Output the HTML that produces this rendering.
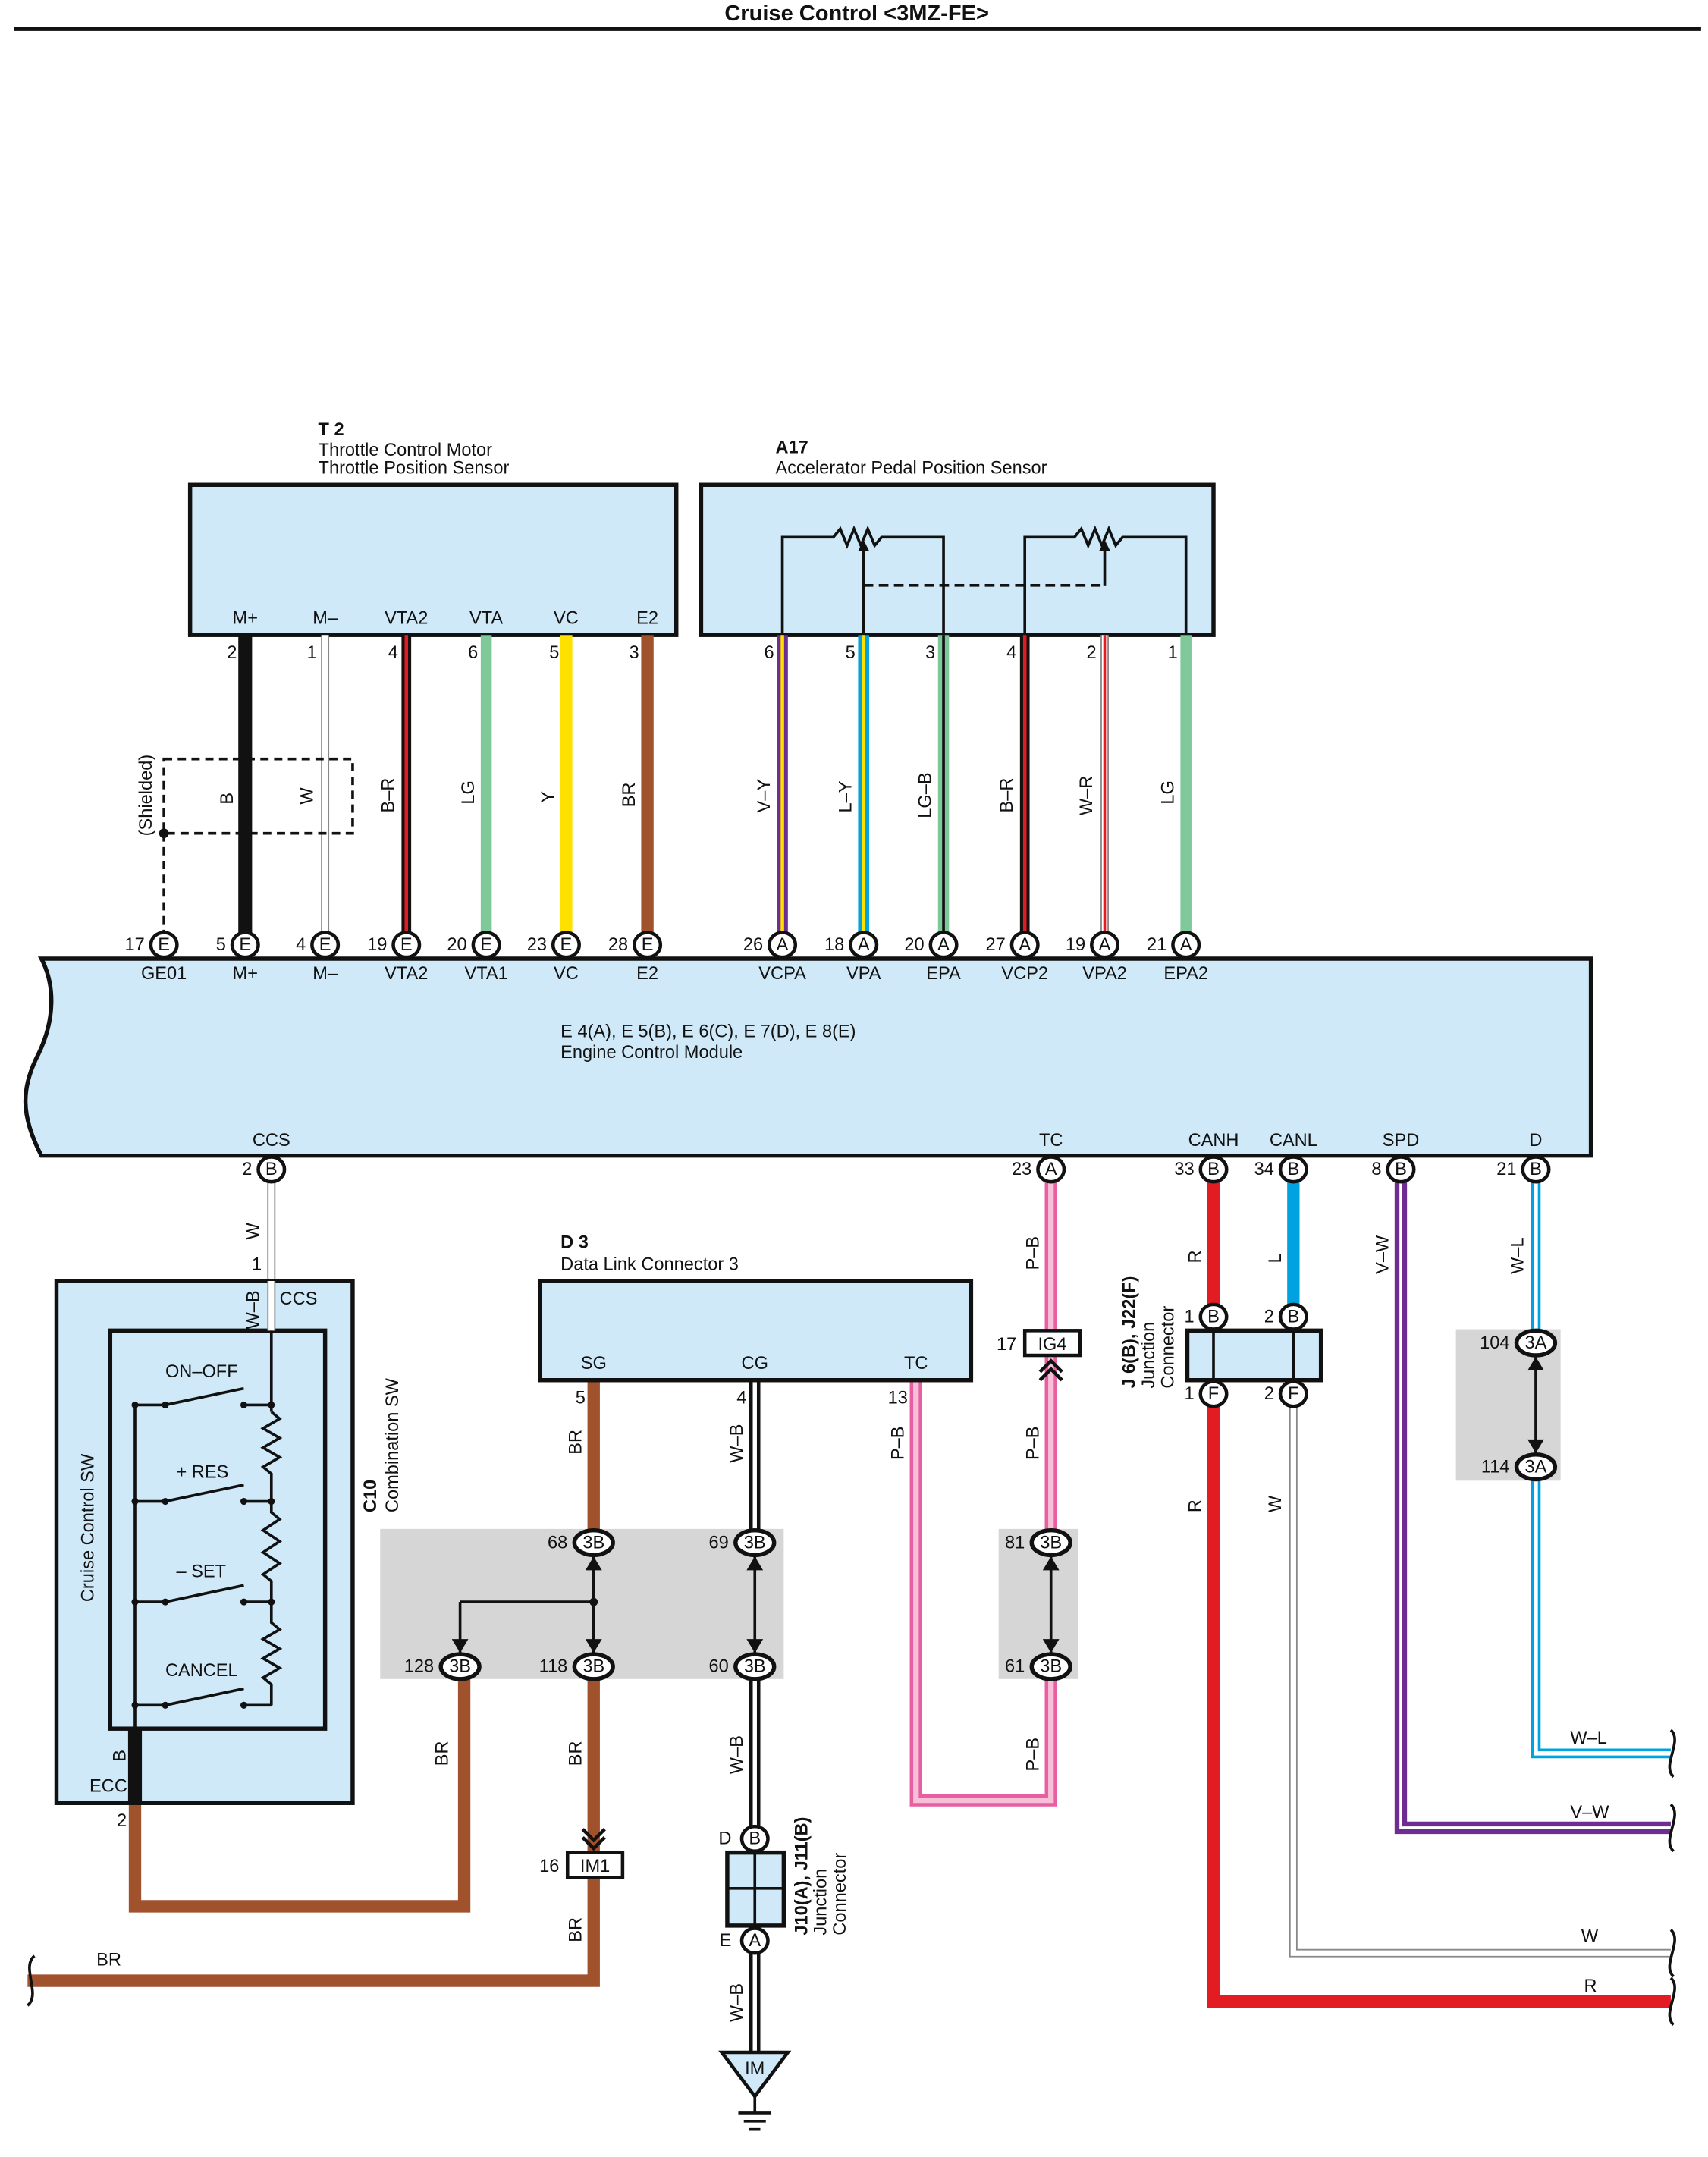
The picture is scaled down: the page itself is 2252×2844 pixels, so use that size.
<!DOCTYPE html>
<html><head><meta charset="utf-8">
<style>
html,body{margin:0;padding:0;background:#fff}
svg{display:block}
text{font-family:"Liberation Sans",sans-serif;font-size:13px;fill:#111}
.b{font-weight:bold}
.sm{font-size:12px}
</style></head><body>
<svg width="2252" height="2844" viewBox="0 0 1240 1566" xmlns="http://www.w3.org/2000/svg">
<defs>
<g id="ce"><ellipse rx="9.5" ry="9" fill="#fff" stroke="#111" stroke-width="2.5"/></g>
</defs>
<text x="622" y="15" text-anchor="middle" class="b" style="font-size:16px">Cruise Control &lt;3MZ-FE&gt;</text>
<line x1="10" y1="21" x2="1235" y2="21" stroke="#111" stroke-width="3"/>

<!-- T2 -->
<text x="231" y="316" class="b">T 2</text>
<text x="231" y="331">Throttle Control Motor</text>
<text x="231" y="344">Throttle Position Sensor</text>
<rect x="138" y="352" width="353" height="109" fill="#cfe9f8" stroke="#111" stroke-width="3"/>
<g text-anchor="middle">
<text x="178" y="453">M+</text><text x="236" y="453">M–</text><text x="295" y="453">VTA2</text>
<text x="353" y="453">VTA</text><text x="411" y="453">VC</text><text x="470" y="453">E2</text>
</g>
<g text-anchor="end">
<text x="172" y="478">2</text><text x="230" y="478">1</text><text x="289" y="478">4</text>
<text x="347" y="478">6</text><text x="406" y="478">5</text><text x="464" y="478">3</text>
</g>

<!-- A17 -->
<text x="563" y="329" class="b">A17</text>
<text x="563" y="344">Accelerator Pedal Position Sensor</text>
<rect x="509" y="352" width="372" height="109" fill="#cfe9f8" stroke="#111" stroke-width="3"/>
<g fill="none" stroke="#111" stroke-width="2">
<polyline points="568,461 568,390 605,390 610,384 615,396 620,384 625,396 630,384 635,396 640,390 685,390 685,461"/>
<polyline points="744,461 744,390 780,390 785,384 790,396 795,384 800,396 805,384 810,396 815,390 861,390 861,461"/>
<line x1="627" y1="461" x2="627" y2="398"/>
<line x1="802" y1="425" x2="802" y2="398"/>
<line x1="627" y1="425" x2="802" y2="425" stroke-dasharray="7,4"/>
</g>
<polygon points="623,400 631,400 627,392" fill="#111"/>
<polygon points="798,400 806,400 802,392" fill="#111"/>
<g text-anchor="end">
<text x="562" y="478">6</text><text x="621" y="478">5</text><text x="679" y="478">3</text>
<text x="738" y="478">4</text><text x="796" y="478">2</text><text x="855" y="478">1</text>
</g>

<!-- wires top -->
<line x1="178" y1="461" x2="178" y2="677" stroke="#111" stroke-width="10"/>
<line x1="236" y1="461" x2="236" y2="677" stroke="#888" stroke-width="6"/><line x1="236" y1="461" x2="236" y2="677" stroke="#fff" stroke-width="4"/>
<line x1="295" y1="461" x2="295" y2="677" stroke="#111" stroke-width="7"/><line x1="295" y1="461" x2="295" y2="677" stroke="#e31b23" stroke-width="2.5"/>
<line x1="353" y1="461" x2="353" y2="677" stroke="#7ec89a" stroke-width="8"/>
<line x1="411" y1="461" x2="411" y2="677" stroke="#ffe100" stroke-width="9"/>
<line x1="470" y1="461" x2="470" y2="677" stroke="#a0522d" stroke-width="9"/>
<line x1="568" y1="461" x2="568" y2="677" stroke="#6d2d91" stroke-width="8"/><line x1="568" y1="461" x2="568" y2="677" stroke="#ffe100" stroke-width="2.5"/>
<line x1="627" y1="461" x2="627" y2="677" stroke="#00a3e0" stroke-width="8"/><line x1="627" y1="461" x2="627" y2="677" stroke="#ffe100" stroke-width="2.5"/>
<line x1="685" y1="461" x2="685" y2="677" stroke="#7ec89a" stroke-width="8"/><line x1="685" y1="461" x2="685" y2="677" stroke="#111" stroke-width="2"/>
<line x1="744" y1="461" x2="744" y2="677" stroke="#111" stroke-width="7"/><line x1="744" y1="461" x2="744" y2="677" stroke="#e31b23" stroke-width="2.5"/>
<line x1="802" y1="461" x2="802" y2="677" stroke="#888" stroke-width="6"/><line x1="802" y1="461" x2="802" y2="677" stroke="#fff" stroke-width="4"/><line x1="802" y1="461" x2="802" y2="677" stroke="#e31b23" stroke-width="2"/>
<line x1="861" y1="461" x2="861" y2="677" stroke="#7ec89a" stroke-width="8"/>

<!-- shield -->
<rect x="119" y="551" width="137" height="54" fill="none" stroke="#111" stroke-width="2" stroke-dasharray="6,4"/>
<line x1="119" y1="605" x2="119" y2="677" stroke="#111" stroke-width="2" stroke-dasharray="6,4"/>
<circle cx="119" cy="605" r="3.5" fill="#111"/>
<text transform="translate(110,607) rotate(-90)">(Shielded)</text>
<g>
<text transform="translate(169,584) rotate(-90)">B</text>
<text transform="translate(227,584) rotate(-90)">W</text>
<text transform="translate(286,590) rotate(-90)">B–R</text>
<text transform="translate(344,584) rotate(-90)">LG</text>
<text transform="translate(402,583) rotate(-90)">Y</text>
<text transform="translate(461,586) rotate(-90)">BR</text>
<text transform="translate(559,590) rotate(-90)">V–Y</text>
<text transform="translate(618,590) rotate(-90)">L–Y</text>
<text transform="translate(676,594) rotate(-90)">LG–B</text>
<text transform="translate(735,590) rotate(-90)">B–R</text>
<text transform="translate(793,592) rotate(-90)">W–R</text>
<text transform="translate(852,584) rotate(-90)">LG</text>
</g>

<!-- ECM -->
<path d="M30,696 L1155,696 L1155,839 L30,839 C15,810 15,790 28,765 C40,740 40,715 30,696 Z" fill="#cfe9f8" stroke="#111" stroke-width="3"/>
<g text-anchor="middle">
<text x="119" y="711">GE01</text><text x="178" y="711">M+</text><text x="236" y="711">M–</text><text x="295" y="711">VTA2</text>
<text x="353" y="711">VTA1</text><text x="411" y="711">VC</text><text x="470" y="711">E2</text>
<text x="568" y="711">VCPA</text><text x="627" y="711">VPA</text><text x="685" y="711">EPA</text>
<text x="744" y="711">VCP2</text><text x="802" y="711">VPA2</text><text x="861" y="711">EPA2</text>
<text x="197" y="832">CCS</text><text x="763" y="832">TC</text><text x="881" y="832">CANH</text>
<text x="939" y="832">CANL</text><text x="1017" y="832">SPD</text><text x="1115" y="832">D</text>
</g>
<text x="407" y="753">E 4(A), E 5(B), E 6(C), E 7(D), E 8(E)</text>
<text x="407" y="768">Engine Control Module</text>

<!-- top ECM connectors -->
<g text-anchor="middle" class="sm">
<use href="#ce" x="119" y="686"/><text x="119" y="690">E</text>
<use href="#ce" x="178" y="686"/><text x="178" y="690">E</text>
<use href="#ce" x="236" y="686"/><text x="236" y="690">E</text>
<use href="#ce" x="295" y="686"/><text x="295" y="690">E</text>
<use href="#ce" x="353" y="686"/><text x="353" y="690">E</text>
<use href="#ce" x="411" y="686"/><text x="411" y="690">E</text>
<use href="#ce" x="470" y="686"/><text x="470" y="690">E</text>
<use href="#ce" x="568" y="686"/><text x="568" y="690">A</text>
<use href="#ce" x="627" y="686"/><text x="627" y="690">A</text>
<use href="#ce" x="685" y="686"/><text x="685" y="690">A</text>
<use href="#ce" x="744" y="686"/><text x="744" y="690">A</text>
<use href="#ce" x="802" y="686"/><text x="802" y="690">A</text>
<use href="#ce" x="861" y="686"/><text x="861" y="690">A</text>
</g>
<g text-anchor="end">
<text x="105" y="690">17</text><text x="164" y="690">5</text><text x="222" y="690">4</text><text x="281" y="690">19</text>
<text x="339" y="690">20</text><text x="397" y="690">23</text><text x="456" y="690">28</text>
<text x="554" y="690">26</text><text x="613" y="690">18</text><text x="671" y="690">20</text>
<text x="730" y="690">27</text><text x="788" y="690">19</text><text x="847" y="690">21</text>
</g>

<!-- grey blocks -->
<rect x="276" y="1110" width="293" height="109" fill="#d6d6d6"/>
<rect x="725" y="1110" width="58" height="109" fill="#d6d6d6"/>
<rect x="1057" y="965" width="76" height="110" fill="#d6d6d6"/>

<!-- lower wires -->
<line x1="197" y1="858" x2="197" y2="966" stroke="#888" stroke-width="6"/><line x1="197" y1="858" x2="197" y2="966" stroke="#fff" stroke-width="4"/>
<!-- TC pink -->
<line x1="763" y1="858" x2="763" y2="1111" stroke="#e75fa0" stroke-width="9"/>
<line x1="763" y1="858" x2="763" y2="1111" stroke="#f7c0d8" stroke-width="4"/>
<polyline points="763,1219 763,1307 665,1307 665,1002" fill="none" stroke="#e75fa0" stroke-width="9"/>
<polyline points="763,1219 763,1307 665,1307 665,1002" fill="none" stroke="#f7c0d8" stroke-width="4"/>
<!-- CANH red -->
<polyline points="881,858 881,1453 1213,1453" fill="none" stroke="#e31b23" stroke-width="9"/>
<!-- CANL blue -->
<line x1="939" y1="858" x2="939" y2="956" stroke="#00a3e0" stroke-width="9"/>
<polyline points="939,1012 939,1418 1213,1418" fill="none" stroke="#888" stroke-width="6"/>
<polyline points="939,1012 939,1418 1213,1418" fill="none" stroke="#fff" stroke-width="4"/>
<!-- SPD purple -->
<polyline points="1017,858 1017,1327 1213,1327" fill="none" stroke="#6d2d91" stroke-width="9"/>
<polyline points="1017,858 1017,1327 1213,1327" fill="none" stroke="#fff" stroke-width="2"/>
<!-- D W-L -->
<line x1="1115" y1="858" x2="1115" y2="966" stroke="#00a3e0" stroke-width="7"/>
<line x1="1115" y1="858" x2="1115" y2="966" stroke="#fff" stroke-width="3"/>
<polyline points="1115,1074 1115,1273 1213,1273" fill="none" stroke="#00a3e0" stroke-width="7"/>
<polyline points="1115,1074 1115,1273 1213,1273" fill="none" stroke="#fff" stroke-width="3"/>
<!-- SG BR -->
<line x1="431" y1="1002" x2="431" y2="1111" stroke="#a0522d" stroke-width="9"/>
<polyline points="431,1219 431,1438 20,1438" fill="none" stroke="#a0522d" stroke-width="9"/>
<line x1="431" y1="1163" x2="334" y2="1163" stroke="#111" stroke-width="2"/>
<line x1="334" y1="1163" x2="334" y2="1200" stroke="#111" stroke-width="2"/>
<line x1="431" y1="1128" x2="431" y2="1200" stroke="#111" stroke-width="2"/>
<circle cx="431" cy="1163" r="3" fill="#111"/>
<polyline points="98,1309 98,1384 337,1384 337,1218" fill="none" stroke="#a0522d" stroke-width="9"/>
<!-- CG W-B -->
<line x1="548" y1="1002" x2="548" y2="1111" stroke="#111" stroke-width="8"/>
<line x1="548" y1="1002" x2="548" y2="1111" stroke="#fff" stroke-width="3"/>
<line x1="548" y1="1219" x2="548" y2="1490" stroke="#111" stroke-width="8"/>
<line x1="548" y1="1219" x2="548" y2="1490" stroke="#fff" stroke-width="3"/>
<line x1="548" y1="1128" x2="548" y2="1200" stroke="#111" stroke-width="2"/>
<line x1="763" y1="1128" x2="763" y2="1200" stroke="#111" stroke-width="2"/>
<line x1="1115" y1="983" x2="1115" y2="1057" stroke="#111" stroke-width="2"/>
<g fill="#111">
<polygon points="425,1140 437,1140 431,1130"/><polygon points="425,1190 437,1190 431,1200"/>
<polygon points="328,1190 340,1190 334,1200"/>
<polygon points="542,1140 554,1140 548,1130"/><polygon points="542,1190 554,1190 548,1200"/>
<polygon points="757,1140 769,1140 763,1130"/><polygon points="757,1190 769,1190 763,1200"/>
<polygon points="1109,995 1121,995 1115,985"/><polygon points="1109,1045 1121,1045 1115,1055"/>
</g>

<!-- wire labels lower -->
<g>
<text transform="translate(188,900) rotate(-90)">W</text>
<text transform="translate(754,922) rotate(-90)">P–B</text>
<text transform="translate(872,917) rotate(-90)">R</text>
<text transform="translate(930,917) rotate(-90)">L</text>
<text transform="translate(1008,925) rotate(-90)">V–W</text>
<text transform="translate(1106,925) rotate(-90)">W–L</text>
<text transform="translate(422,1056) rotate(-90)">BR</text>
<text transform="translate(539,1062) rotate(-90)">W–B</text>
<text transform="translate(656,1060) rotate(-90)">P–B</text>
<text transform="translate(754,1060) rotate(-90)">P–B</text>
<text transform="translate(872,1098) rotate(-90)">R</text>
<text transform="translate(930,1098) rotate(-90)">W</text>
<text transform="translate(325,1282) rotate(-90)">BR</text>
<text transform="translate(422,1282) rotate(-90)">BR</text>
<text transform="translate(539,1288) rotate(-90)">W–B</text>
<text transform="translate(754,1286) rotate(-90)">P–B</text>
<text transform="translate(422,1410) rotate(-90)">BR</text>
<text transform="translate(539,1468) rotate(-90)">W–B</text>
</g>
<text x="70" y="1427">BR</text>
<text x="1140" y="1266">W–L</text>
<text x="1140" y="1320">V–W</text>
<text x="1148" y="1410">W</text>
<text x="1150" y="1446">R</text>

<!-- wavy ends -->
<g fill="none" stroke="#111" stroke-width="2">
<path d="M25,1420 C15,1428 30,1448 20,1456"/>
<path d="M1213,1256 C1222,1264 1206,1282 1215,1290"/>
<path d="M1213,1310 C1222,1318 1206,1336 1215,1344"/>
<path d="M1213,1401 C1222,1409 1206,1427 1215,1435"/>
<path d="M1213,1436 C1222,1444 1206,1462 1215,1470"/>
</g>

<!-- bottom ECM connectors -->
<g text-anchor="middle" class="sm">
<use href="#ce" x="197" y="849"/><text x="197" y="853">B</text>
<use href="#ce" x="763" y="849"/><text x="763" y="853">A</text>
<use href="#ce" x="881" y="849"/><text x="881" y="853">B</text>
<use href="#ce" x="939" y="849"/><text x="939" y="853">B</text>
<use href="#ce" x="1017" y="849"/><text x="1017" y="853">B</text>
<use href="#ce" x="1115" y="849"/><text x="1115" y="853">B</text>
</g>
<g text-anchor="end">
<text x="183" y="853">2</text><text x="749" y="853">23</text><text x="867" y="853">33</text>
<text x="925" y="853">34</text><text x="1003" y="853">8</text><text x="1101" y="853">21</text>
</g>

<!-- Cruise control SW -->
<rect x="41" y="930" width="215" height="379" fill="#cfe9f8" stroke="#111" stroke-width="3"/>
<rect x="80" y="966" width="156" height="289" fill="#cfe9f8" stroke="#111" stroke-width="3"/>
<line x1="197" y1="930" x2="197" y2="966" stroke="#888" stroke-width="6"/><line x1="197" y1="930" x2="197" y2="966" stroke="#fff" stroke-width="4"/>
<text x="190" y="922" text-anchor="end">1</text>
<text transform="translate(188,965) rotate(-90)">W–B</text>
<text x="203" y="947">CCS</text>
<text transform="translate(68,1163) rotate(-90)">Cruise Control SW</text>
<text transform="translate(273,1098) rotate(-90)" class="b">C10</text>
<text transform="translate(289,1098) rotate(-90)">Combination SW</text>
<g fill="none" stroke="#111" stroke-width="2">
<polyline points="197,966 197,1025 "/>
<polyline points="197,1025 203,1030 191,1037 203,1044 191,1051 203,1058 191,1065 197,1070 197,1098 203,1103 191,1111 203,1119 191,1127 203,1135 191,1143 197,1148 197,1178 203,1183 191,1190 203,1197 191,1204 203,1211 191,1218 197,1223 197,1238"/>
<line x1="98" y1="1020" x2="98" y2="1255"/>
<line x1="98" y1="1020" x2="120" y2="1020"/><line x1="120" y1="1020" x2="177" y2="1008"/><line x1="177" y1="1020" x2="197" y2="1020"/>
<line x1="98" y1="1090" x2="120" y2="1090"/><line x1="120" y1="1090" x2="177" y2="1078"/><line x1="177" y1="1090" x2="197" y2="1090"/>
<line x1="98" y1="1163" x2="120" y2="1163"/><line x1="120" y1="1163" x2="177" y2="1151"/><line x1="177" y1="1163" x2="197" y2="1163"/>
<line x1="98" y1="1238" x2="120" y2="1238"/><line x1="120" y1="1238" x2="177" y2="1226"/><line x1="177" y1="1238" x2="197" y2="1238"/>
</g>
<g fill="#111">
<circle cx="120" cy="1020" r="2.5"/><circle cx="177" cy="1020" r="2.5"/><circle cx="197" cy="1020" r="2.5"/><circle cx="98" cy="1020" r="2.5"/>
<circle cx="120" cy="1090" r="2.5"/><circle cx="177" cy="1090" r="2.5"/><circle cx="197" cy="1090" r="2.5"/><circle cx="98" cy="1090" r="2.5"/>
<circle cx="120" cy="1163" r="2.5"/><circle cx="177" cy="1163" r="2.5"/><circle cx="197" cy="1163" r="2.5"/><circle cx="98" cy="1163" r="2.5"/>
<circle cx="120" cy="1238" r="2.5"/><circle cx="177" cy="1238" r="2.5"/><circle cx="98" cy="1238" r="2.5"/>
</g>
<text x="120" y="1000">ON–OFF</text>
<text x="128" y="1073">+ RES</text>
<text x="128" y="1145">– SET</text>
<text x="120" y="1217">CANCEL</text>
<line x1="98" y1="1255" x2="98" y2="1309" stroke="#111" stroke-width="10"/>
<text transform="translate(91,1279) rotate(-90)">B</text>
<text x="65" y="1301">ECC</text>
<text x="92" y="1326" text-anchor="end">2</text>

<!-- D3 -->
<text x="407" y="906" class="b">D 3</text>
<text x="407" y="922">Data Link Connector 3</text>
<rect x="392" y="930" width="313" height="72" fill="#cfe9f8" stroke="#111" stroke-width="3"/>
<g text-anchor="middle"><text x="431" y="994">SG</text><text x="548" y="994">CG</text><text x="665" y="994">TC</text></g>
<g text-anchor="end"><text x="425" y="1019">5</text><text x="542" y="1019">4</text><text x="659" y="1019">13</text></g>

<!-- 3B connectors -->
<g text-anchor="middle" class="sm">
<g fill="#fff" stroke="#111" stroke-width="3">
<ellipse cx="431" cy="1120" rx="14" ry="9"/><ellipse cx="548" cy="1120" rx="14" ry="9"/>
<ellipse cx="334" cy="1210" rx="14" ry="9"/><ellipse cx="431" cy="1210" rx="14" ry="9"/><ellipse cx="548" cy="1210" rx="14" ry="9"/>
<ellipse cx="763" cy="1120" rx="14" ry="9"/><ellipse cx="763" cy="1210" rx="14" ry="9"/>
<ellipse cx="1115" cy="975" rx="14" ry="9"/><ellipse cx="1115" cy="1065" rx="14" ry="9"/>
</g>
<text x="431" y="1124">3B</text><text x="548" y="1124">3B</text><text x="334" y="1214">3B</text><text x="431" y="1214">3B</text><text x="548" y="1214">3B</text>
<text x="763" y="1124">3B</text><text x="763" y="1214">3B</text><text x="1115" y="979">3A</text><text x="1115" y="1069">3A</text>
</g>
<g text-anchor="end">
<text x="412" y="1124">68</text><text x="529" y="1124">69</text><text x="315" y="1214">128</text><text x="412" y="1214">118</text><text x="529" y="1214">60</text>
<text x="744" y="1124">81</text><text x="744" y="1214">61</text><text x="1096" y="979">104</text><text x="1096" y="1069">114</text>
</g>

<!-- IG4 -->
<rect x="744" y="966" width="40" height="18" fill="#fff" stroke="#111" stroke-width="2.5"/>
<text x="764" y="980" text-anchor="middle">IG4</text>
<text x="738" y="980" text-anchor="end">17</text>
<polyline points="755,996 763,988 771,996" fill="none" stroke="#111" stroke-width="2.5"/>
<polyline points="755,1002 763,994 771,1002" fill="none" stroke="#111" stroke-width="2.5"/>
<!-- IM1 -->
<rect x="412" y="1345" width="40" height="18" fill="#fff" stroke="#111" stroke-width="2.5"/>
<text x="432" y="1359" text-anchor="middle">IM1</text>
<text x="406" y="1359" text-anchor="end">16</text>
<polyline points="423,1328 431,1336 439,1328" fill="none" stroke="#111" stroke-width="2.5"/>
<polyline points="423,1334 431,1342 439,1334" fill="none" stroke="#111" stroke-width="2.5"/>

<!-- J6/J22 junction -->
<rect x="862" y="966" width="97" height="36" fill="#cfe9f8" stroke="#111" stroke-width="3"/>
<line x1="881" y1="966" x2="881" y2="1002" stroke="#111" stroke-width="2"/>
<line x1="939" y1="966" x2="939" y2="1002" stroke="#111" stroke-width="2"/>
<g text-anchor="middle" class="sm">
<use href="#ce" x="881" y="956"/><text x="881" y="960">B</text>
<use href="#ce" x="939" y="956"/><text x="939" y="960">B</text>
<use href="#ce" x="881" y="1012"/><text x="881" y="1016">F</text>
<use href="#ce" x="939" y="1012"/><text x="939" y="1016">F</text>
</g>
<g text-anchor="end"><text x="867" y="960">1</text><text x="925" y="960">2</text><text x="867" y="1016">1</text><text x="925" y="1016">2</text></g>
<text transform="translate(824,1008) rotate(-90)" class="b">J 6(B), J22(F)</text>
<text transform="translate(838,1008) rotate(-90)">Junction</text>
<text transform="translate(852,1008) rotate(-90)">Connector</text>

<!-- J10/J11 -->
<rect x="528" y="1345" width="41" height="53" fill="#cfe9f8" stroke="#111" stroke-width="3"/>
<line x1="528" y1="1371" x2="569" y2="1371" stroke="#111" stroke-width="2"/>
<line x1="548" y1="1345" x2="548" y2="1398" stroke="#111" stroke-width="2"/>
<g text-anchor="middle" class="sm">
<use href="#ce" x="548" y="1335"/><text x="548" y="1339">B</text>
<use href="#ce" x="548" y="1409"/><text x="548" y="1413">A</text>
</g>
<text x="531" y="1339" text-anchor="end">D</text>
<text x="531" y="1413" text-anchor="end">E</text>
<text transform="translate(586,1405) rotate(-90)" class="b">J10(A), J11(B)</text>
<text transform="translate(600,1405) rotate(-90)">Junction</text>
<text transform="translate(614,1405) rotate(-90)">Connector</text>

<!-- ground -->
<polygon points="524,1490 572,1490 548,1522" fill="#cfe9f8" stroke="#111" stroke-width="2.5"/>
<text x="548" y="1506" text-anchor="middle">IM</text>
<line x1="548" y1="1522" x2="548" y2="1534" stroke="#111" stroke-width="2"/>
<line x1="536" y1="1534" x2="560" y2="1534" stroke="#111" stroke-width="2"/>
<line x1="540" y1="1540" x2="556" y2="1540" stroke="#111" stroke-width="2"/>
<line x1="544" y1="1546" x2="552" y2="1546" stroke="#111" stroke-width="2"/>
</svg>
</body></html>
